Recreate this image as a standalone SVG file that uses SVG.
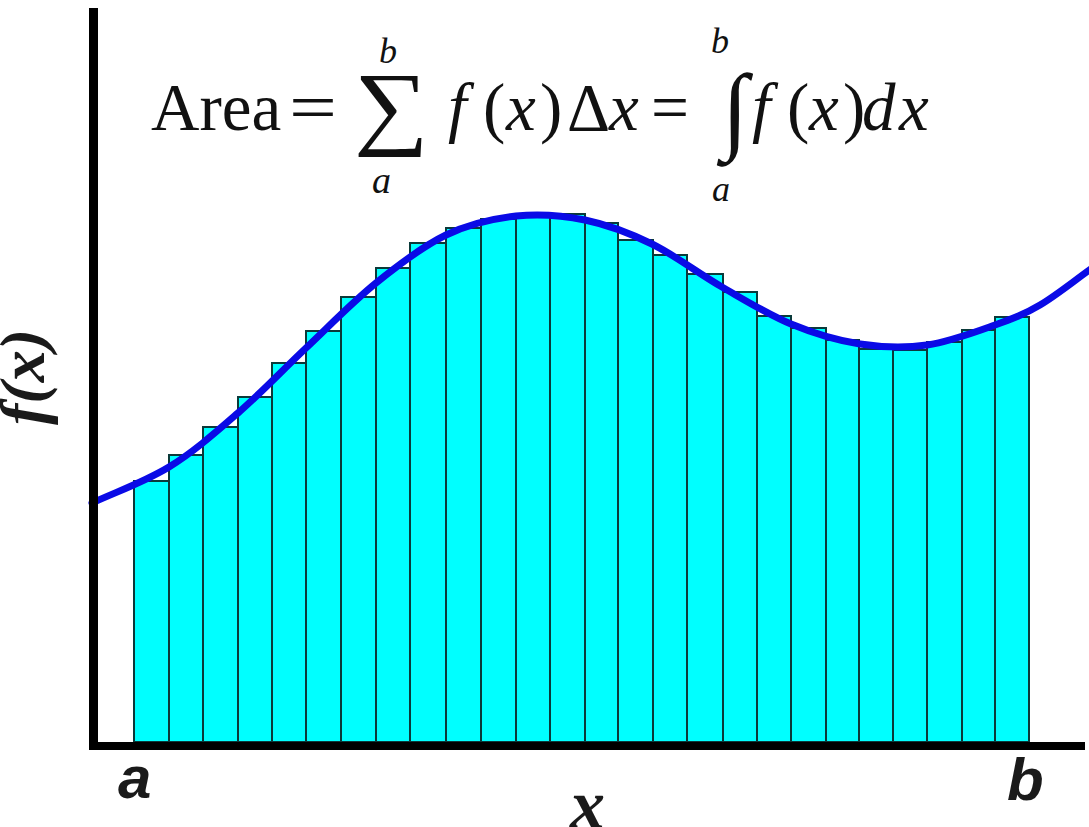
<svg xmlns="http://www.w3.org/2000/svg" width="1089" height="827" viewBox="0 0 1089 827">
<style>
.bar{fill:#00FFFF;stroke:#0b3a3a;stroke-width:2}
.curve{fill:none;stroke:#0a0ae6;stroke-width:7;stroke-linecap:round}
.axis{stroke:#000;fill:none}
.eq{font-family:"Liberation Serif","DejaVu Serif",serif;fill:#111}
.it{font-style:italic}
.lbl{font-family:"Liberation Sans",Arial,sans-serif;font-weight:bold;font-style:italic;fill:#1a1a1a}
.ser{font-family:"Liberation Serif","DejaVu Serif",serif;font-weight:bold;font-style:italic;fill:#1a1a1a}
</style>
<rect width="1089" height="827" fill="#fff"/>
<g id="bars">
<rect class="bar" x="134" y="481" width="35" height="261"/>
<rect class="bar" x="169" y="455" width="34" height="287"/>
<rect class="bar" x="203" y="427" width="35" height="315"/>
<rect class="bar" x="238" y="397" width="34" height="345"/>
<rect class="bar" x="272" y="363" width="34" height="379"/>
<rect class="bar" x="306" y="331" width="35" height="411"/>
<rect class="bar" x="341" y="297" width="35" height="445"/>
<rect class="bar" x="376" y="268" width="34" height="474"/>
<rect class="bar" x="410" y="243" width="36" height="499"/>
<rect class="bar" x="446" y="228" width="35" height="514"/>
<rect class="bar" x="481" y="219" width="35" height="523"/>
<rect class="bar" x="516" y="214" width="34" height="528"/>
<rect class="bar" x="550" y="214" width="35" height="528"/>
<rect class="bar" x="585" y="223" width="33" height="519"/>
<rect class="bar" x="618" y="240" width="35" height="502"/>
<rect class="bar" x="653" y="255" width="34" height="487"/>
<rect class="bar" x="687" y="274" width="36" height="468"/>
<rect class="bar" x="723" y="292" width="34" height="450"/>
<rect class="bar" x="757" y="316" width="34" height="426"/>
<rect class="bar" x="791" y="328" width="35" height="414"/>
<rect class="bar" x="826" y="340" width="33" height="402"/>
<rect class="bar" x="859" y="349" width="34" height="393"/>
<rect class="bar" x="893" y="350" width="34" height="392"/>
<rect class="bar" x="927" y="342" width="35" height="400"/>
<rect class="bar" x="962" y="330" width="33" height="412"/>
<rect class="bar" x="995" y="317" width="34" height="425"/>
</g>
<g id="curve">
<path class="curve" d="M92,503 C117.7,491.3 144.7,481.8 169,467 C193.3,452.2 215.2,432.8 238,413 C260.8,393.2 283,369.7 306,348 C329,326.3 352.7,301.8 376,283 C399.3,264.2 422.7,246.2 446,235 C469.3,223.8 492.8,218.5 516,216 C539.2,213.5 562.3,215.3 585,220 C607.7,224.7 629.2,232.8 652,244 C674.8,255.2 698.8,273.7 722,287 C745.2,300.3 768,314.5 791,324 C814,333.5 837.3,340.5 860,344 C882.7,347.5 904.5,348.2 927,345 C949.5,341.8 976.2,331.7 995,325 C1013.8,318.3 1023.8,314.5 1040,305 C1056.2,295.5 1074.7,280.3 1095,266"/>
</g>
<g id="axes">
<line class="axis" x1="93.5" y1="8" x2="93.5" y2="750" stroke-width="9"/>
<line class="axis" x1="89" y1="746" x2="1085" y2="746" stroke-width="8"/>
</g>
<g id="formula" class="eq">
<text x="151" y="130" font-size="67">Area</text>
<text x="289" y="130" font-size="67" textLength="48" lengthAdjust="spacingAndGlyphs">=</text>
<text transform="translate(354,137) scale(1.05,0.93)" font-size="100">∑</text>
<text class="it" x="379" y="63" font-size="36">b</text>
<text class="it" x="372" y="193" font-size="38">a</text>
<text y="130" font-size="67"><tspan class="it" x="448">f</tspan><tspan x="483">(</tspan><tspan class="it" x="506">x</tspan><tspan x="540">)</tspan><tspan x="567">Δ</tspan><tspan class="it" x="609">x</tspan></text>
<text x="651" y="130" font-size="67" textLength="38" lengthAdjust="spacingAndGlyphs">=</text>
<text x="722" y="141" font-size="96">∫</text>
<text class="it" x="711" y="53" font-size="36">b</text>
<text class="it" x="712" y="201" font-size="36">a</text>
<text y="130" font-size="67"><tspan class="it" x="752">f</tspan><tspan x="787">(</tspan><tspan class="it" x="809">x</tspan><tspan x="843">)</tspan><tspan class="it" x="862">d</tspan><tspan class="it" x="899">x</tspan></text>
</g>
<g id="labels">
<text class="lbl" x="118" y="798" font-size="60">a</text>
<text class="lbl" x="1007" y="800" font-size="60">b</text>
<text class="ser" x="570" y="828" font-size="70">x</text>
<text class="ser" transform="translate(44,377) rotate(-90)" text-anchor="middle" font-size="64">f(x)</text>
</g>
</svg>
